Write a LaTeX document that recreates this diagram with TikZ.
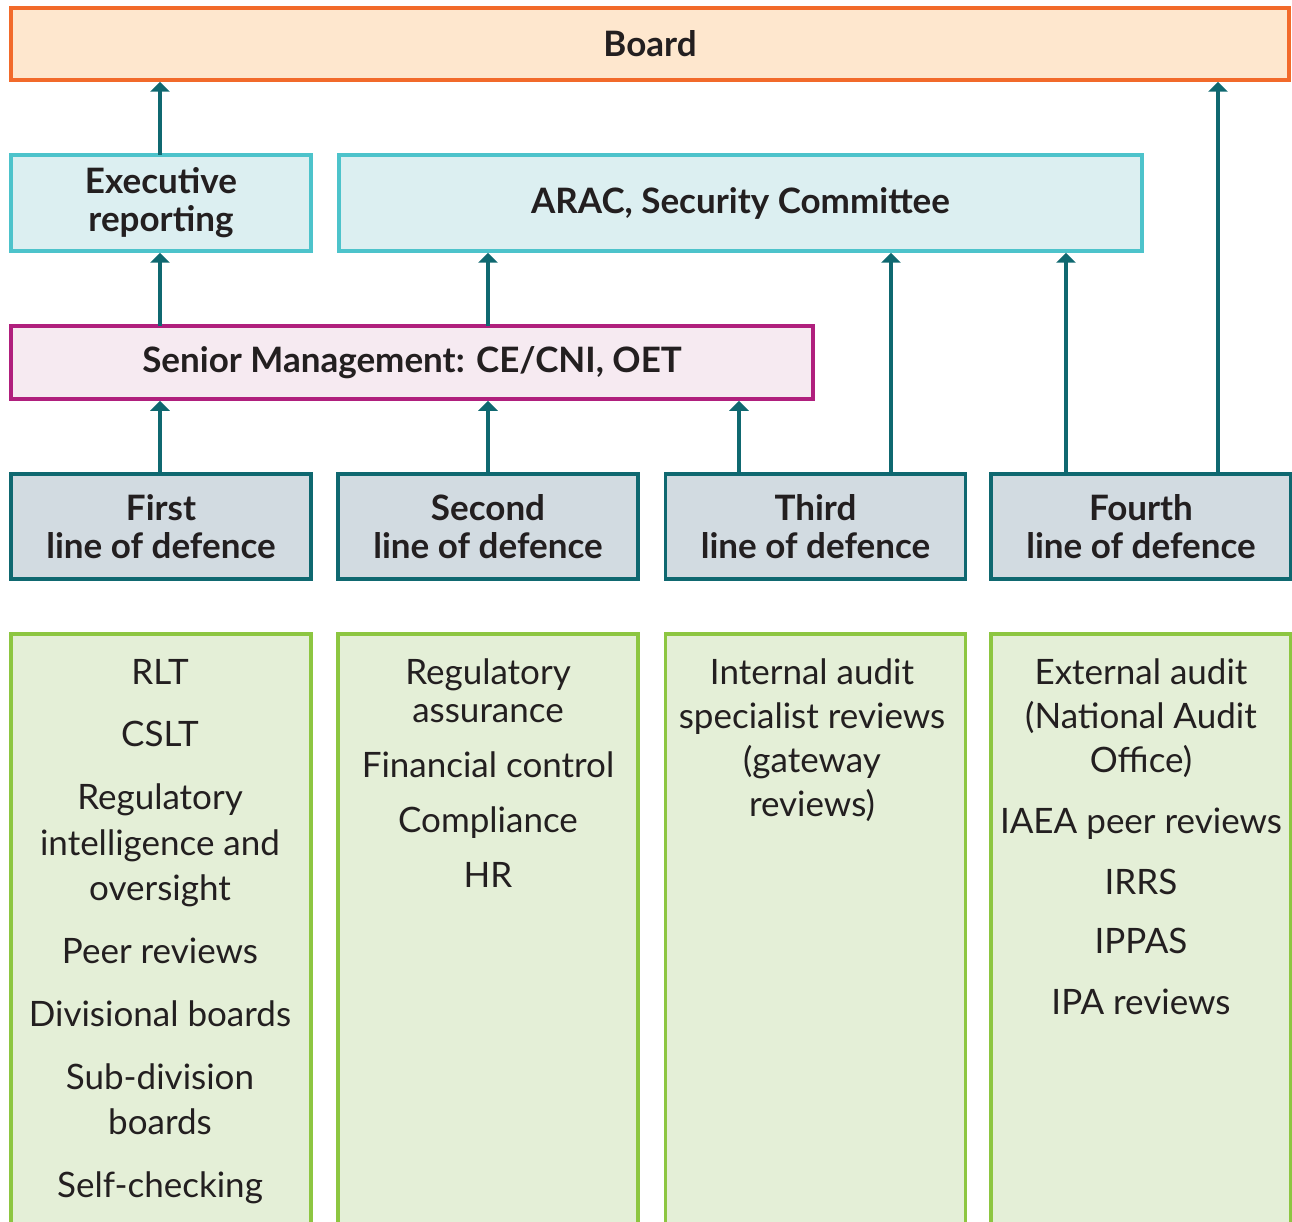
\documentclass[tikz,border=0pt]{standalone}
\usepackage{fontspec}
\setmainfont{Lato}
\usetikzlibrary{arrows.meta}
\definecolor{ink}{HTML}{231F20}
\definecolor{boardline}{HTML}{F26A2A}
\definecolor{boardfill}{HTML}{FEE7CE}
\definecolor{cyanline}{HTML}{4DC3CB}
\definecolor{cyanfill}{HTML}{DCEFF1}
\definecolor{mgmtline}{HTML}{B01F7D}
\definecolor{mgmtfill}{HTML}{F6EAF1}
\definecolor{lineline}{HTML}{0F6870}
\definecolor{linefill}{HTML}{D2DBE1}
\definecolor{listline}{HTML}{8DC641}
\definecolor{listfill}{HTML}{E4EFD7}
\begin{document}
\begin{tikzpicture}[x=1pt, y=-1pt,
    box/.style={draw, line width=3.5pt, inner sep=0pt, align=center, text=ink,
      font=\bfseries\fontsize{35}{38}\selectfont},
    boardbox/.style={box, draw=boardline, fill=boardfill},
    reportbox/.style={box, draw=cyanline, fill=cyanfill, minimum height=96pt},
    mgmtbox/.style={box, draw=mgmtline, fill=mgmtfill},
    defencebox/.style={box, draw=lineline, fill=linefill, minimum width=300pt, minimum height=105pt},
    listbox/.style={draw=listline, fill=listfill, line width=3.5pt, minimum width=300pt, minimum height=600pt},
    listtext/.style={anchor=north, inner sep=0pt, align=center, text=ink,
      font=\fontsize{35}{44}\selectfont},
    up/.style={draw=lineline, line width=4pt, -{Triangle[width=19pt,length=10pt]}}]
  \useasboundingbox (0,0) rectangle (1292,1222);
  % top row
  \node[boardbox, minimum width=1278pt, minimum height=72pt] (board) at (650,44) {Board};
  \node[reportbox, minimum width=300pt] (exec) at (161,203) {Executive\\reporting};
  \node[reportbox, minimum width=803pt] (arac) at (740.5,203) {ARAC, Security Committee};
  \node[mgmtbox, minimum width=802pt, minimum height=73pt] (senior) at (412,362.5) {Senior Management: CE/CNI, OET};
  % lines of defence
  \node[defencebox] (first) at (161,526.5) {First\\line of defence};
  \node[defencebox] (second) at (488,526.5) {Second\\line of defence};
  \node[defencebox] (third) at (815.5,526.5) {Third\\line of defence};
  \node[defencebox] (fourth) at (1141,526.5) {Fourth\\line of defence};
  % lists
  \node[listbox] (first-box) at (161,934) {};
  \node[listbox] (second-box) at (488,934) {};
  \node[listbox] (third-box) at (815.5,934) {};
  \node[listbox] (fourth-box) at (1141,934) {};
  \node[listtext] (first-list) at (160,659) {RLT\\[18pt]CSLT\\[19pt]Regulatory\\[2pt]intelligence and\\[1pt]oversight\\[19pt]Peer reviews\\[19pt]Divisional boards\\[19pt]Sub-division\\[1pt]boards\\[19pt]Self-checking};
  \node[listtext] (second-list) at (488,659) {Regulatory\\[-6pt]assurance\\[11pt]Financial control\\[11pt]Compliance\\[11pt]HR};
  \node[listtext] (third-list) at (812,659) {Internal audit\\specialist reviews\\(gateway\\reviews)};
  \node[listtext] (fourth-list) at (1141,659) {External audit\\(National Audit\\Office)\\[17pt]IAEA peer reviews\\[17pt]IRRS\\[15pt]IPPAS\\[17pt]IPA reviews};
  % reporting arrows
  \coordinate (exec-a) at (160,155);
  \coordinate (senior-a) at (160,326);
  \coordinate (senior-b) at (488,326);
  \coordinate (first-a) at (160,474);
  \coordinate (second-a) at (488,474);
  \coordinate (third-a) at (739,474);
  \coordinate (third-b) at (891,474);
  \coordinate (fourth-a) at (1066,474);
  \coordinate (fourth-b) at (1218,474);
  \draw[up] (exec-a) -- (exec-a |- board.south);
  \draw[up] (senior-a) -- (senior-a |- exec.south);
  \draw[up] (senior-b) -- (senior-b |- arac.south);
  \draw[up] (first-a) -- (first-a |- senior.south);
  \draw[up] (second-a) -- (second-a |- senior.south);
  \draw[up] (third-a) -- (third-a |- senior.south);
  \draw[up] (third-b) -- (third-b |- arac.south);
  \draw[up] (fourth-a) -- (fourth-a |- arac.south);
  \draw[up] (fourth-b) -- (fourth-b |- board.south);
\end{tikzpicture}
\end{document}
